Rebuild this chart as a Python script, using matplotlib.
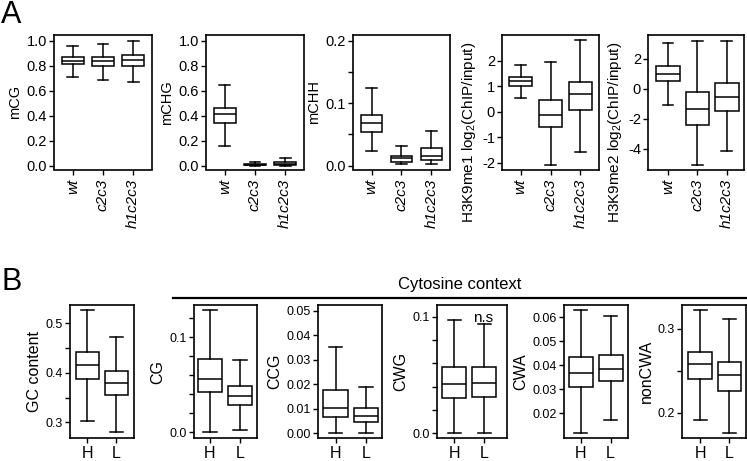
import matplotlib
matplotlib.use('Agg')
import matplotlib.pyplot as plt

plt.rcParams['font.family'] = ['Liberation Sans', 'DejaVu Sans']
plt.rcParams['mathtext.default'] = 'regular'

# ---------------- data (whislo, q1, median, q3, whishi) ----------------
genotypes = ['wt', 'c2c3', 'h1c2c3']
mCG = [[0.710, 0.810, 0.837, 0.866, 0.960],
       [0.689, 0.796, 0.834, 0.866, 0.976],
       [0.670, 0.799, 0.845, 0.885, 1.000]]
mCHG = [[0.155, 0.343, 0.410, 0.464, 0.646],
        [0.0, 0.004, 0.008, 0.013, 0.030],
        [0.0, 0.005, 0.014, 0.027, 0.059]]
mCHH = [[0.023, 0.0536, 0.068, 0.0816, 0.1234],
        [0.0027, 0.0064, 0.0117, 0.016, 0.031],
        [0.0027, 0.0092, 0.016, 0.0273, 0.0547]]
H3K9me1 = [[0.52, 1.02, 1.22, 1.35, 1.82],
           [-2.09, -0.58, -0.14, 0.45, 1.95],
           [-1.57, 0.07, 0.68, 1.18, 2.80]]
H3K9me2 = [[-1.06, 0.52, 1.00, 1.53, 3.04],
           [-5.09, -2.41, -1.34, -0.17, 3.21],
           [-4.16, -1.46, -0.51, 0.42, 3.21]]

groups = ['H', 'L']
GC = [[0.303, 0.387, 0.415, 0.442, 0.527],
      [0.280, 0.355, 0.380, 0.403, 0.473]]
CG = [[0.0, 0.0420, 0.0555, 0.0771, 0.1284],
      [0.0028, 0.0284, 0.0381, 0.0482, 0.0764]]
CCG = [[0.0, 0.0067, 0.0105, 0.0178, 0.0350],
       [0.0, 0.0047, 0.0070, 0.0102, 0.0189]]
CWG = [[0.0, 0.0300, 0.0425, 0.0570, 0.0972],
       [0.0, 0.0311, 0.0428, 0.0570, 0.0935]]
CWA = [[0.0119, 0.0310, 0.0367, 0.0436, 0.0629],
       [0.0172, 0.0333, 0.0385, 0.0444, 0.0606]]
nonCWA = [[0.1918, 0.2400, 0.2580, 0.2725, 0.3216],
          [0.176, 0.2263, 0.2451, 0.2607, 0.3118]]

# tick values / labels
meth_ticks = [0.0, 0.2, 0.4, 0.6, 0.8, 1.0]
meth_labels = ['0.0', '0.2', '0.4', '0.6', '0.8', '1.0']
mCHH_ticks = [0.0, 0.05, 0.1, 0.15, 0.2]
mCHH_labels = ['0.0', '', '0.1', '', '0.2']
me1_ticks = [-2, -1, 0, 1, 2]
me1_labels = ['-2', '-1', '0', '1', '2']
me2_ticks = [-4, -2, 0, 2]
me2_labels = ['-4', '-2', '0', '2']
GC_ticks = [0.3, 0.35, 0.4, 0.45, 0.5]
GC_labels = ['0.3', '', '0.4', '', '0.5']
CG_ticks = [0.0, 0.02, 0.04, 0.06, 0.08, 0.1, 0.12]
CG_labels = ['0.0', '', '', '', '', '0.1', '']
CCG_ticks = [0.0, 0.01, 0.02, 0.03, 0.04, 0.05]
CCG_labels = ['0.00', '0.01', '0.02', '0.03', '0.04', '0.05']
CWG_ticks = [0.0, 0.02, 0.04, 0.06, 0.08, 0.1]
CWG_labels = ['0.0', '', '', '', '', '0.1']
CWA_ticks = [0.02, 0.03, 0.04, 0.05, 0.06]
CWA_labels = ['0.02', '0.03', '0.04', '0.05', '0.06']
nonCWA_ticks = [0.2, 0.25, 0.3]
nonCWA_labels = ['0.2', '', '0.3']

# ---------------- figure ----------------
W, H = 747, 461
fig = plt.figure(figsize=(W / 100, H / 100), dpi=100)
LW = 1.1


def panel(l, r, t, b, data, names, ylabel, yticks, yticklabels, ylim, xlim,
          width, cap, italic=False, rot=0, tickfs=10, labfs=10.5, xfs=10,
          label_y=None, xpad=1.5):
    ax = fig.add_axes([l / W, 1 - b / H, (r - l) / W, (b - t) / H])
    stats = [dict(whislo=s[0], q1=s[1], med=s[2], q3=s[3], whishi=s[4], label=n)
             for s, n in zip(data, names)]
    lp = dict(color='black', lw=LW)
    ax.bxp(stats, positions=list(range(1, len(stats) + 1)), widths=width,
           showfliers=False, patch_artist=True,
           boxprops=dict(facecolor='white', edgecolor='black', lw=LW),
           medianprops=lp, whiskerprops=lp, capprops=lp, capwidths=cap)
    ax.set_xlim(*xlim)
    ax.set_ylim(*ylim)
    ax.set_yticks(yticks, yticklabels, fontsize=tickfs)
    ax.set_xticks(list(range(1, len(names) + 1)), names, fontsize=xfs,
                  rotation=rot, style='italic' if italic else 'normal')
    kw = {}
    if label_y is not None:
        kw['y'] = label_y
    ax.set_ylabel(ylabel, fontsize=labfs, labelpad=3, **kw)
    for s in ax.spines.values():
        s.set_linewidth(1.2)
    ax.tick_params(length=3.5, width=1.0, pad=1.5)
    ax.tick_params(axis='x', pad=xpad)
    return ax


# Panel A
At, Ab = 35, 169.5
axlimA = (0.38, 3.62)
akw = dict(italic=True, rot=90, tickfs=10.5, xfs=11, xpad=3)
panel(54, 152, At, Ab, mCG, genotypes, 'mCG', meth_ticks, meth_labels,
      (-0.032, 1.046), axlimA, 0.72, 0.36, **akw)
panel(206, 304, At, Ab, mCHG, genotypes, 'mCHG', meth_ticks, meth_labels,
      (-0.032, 1.046), axlimA, 0.72, 0.36, **akw)
panel(353, 450, At, Ab, mCHH, genotypes, 'mCHH', mCHH_ticks, mCHH_labels,
      (-0.0064, 0.209), axlimA, 0.72, 0.36, **akw)
panel(502, 599, At, Ab, H3K9me1, genotypes, 'H3K9me1 log$_2$(ChIP/input)',
      me1_ticks, me1_labels, (-2.26, 3.0), axlimA, 0.78, 0.36,
      labfs=11, label_y=0.28, **akw)
panel(648, 743.5, At, Ab, H3K9me2, genotypes, 'H3K9me2 log$_2$(ChIP/input)',
      me2_ticks, me2_labels, (-5.37, 3.6), (0.32, 3.57), 0.8, 0.36,
      labfs=11, label_y=0.28, **akw)

# Panel B
Bt, Bb = 305, 438
bkw = dict(tickfs=9, labfs=11.5, xfs=11.5, xpad=2)
panel(70, 134, Bt, Bb, GC, groups, 'GC content', GC_ticks, GC_labels,
      (0.2686, 0.5367), (0.41, 2.6), 0.8, 0.45, **bkw)
panel(194, 257, Bt, Bb, CG, groups, 'CG', CG_ticks, CG_labels,
      (-0.0059, 0.1336), (0.47, 2.57), 0.8, 0.45, **bkw)
panel(318, 382, Bt, Bb, CCG, groups, 'CCG', CCG_ticks, CCG_labels,
      (-0.0019, 0.0523), (0.42, 2.53), 0.8, 0.45, **bkw)
panel(437, 507, Bt, Bb, CWG, groups, 'CWG', CWG_ticks, CWG_labels,
      (-0.004, 0.110), (0.42, 2.75), 0.8, 0.45, **bkw)
panel(564, 628, Bt, Bb, CWA, groups, 'CWA', CWA_ticks, CWA_labels,
      (0.0098, 0.0651), (0.44, 2.58), 0.8, 0.45, **bkw)
panel(682, 746, Bt, Bb, nonCWA, groups, 'nonCWA', nonCWA_ticks, nonCWA_labels,
      (0.170, 0.3279), (0.38, 2.57), 0.8, 0.45, **bkw)

# annotations
fig.text(1 / W, 1 - 23 / H, 'A', fontsize=22, va='baseline', ha='left')
fig.text(1 / W, 1 - 290 / H, 'B', fontsize=22, va='baseline', ha='left')
fig.text(460 / W, 1 - 288.5 / H, 'Cytosine context', fontsize=12,
         va='baseline', ha='center')
fig.add_artist(plt.Line2D([173 / W, 747 / W], [1 - 297.5 / H, 1 - 297.5 / H],
                          transform=fig.transFigure, color='black', lw=1.6))
fig.text(483 / W, 1 - 321.5 / H, 'n.s', fontsize=11, va='baseline', ha='center')

fig.savefig('out.png', dpi=100)
